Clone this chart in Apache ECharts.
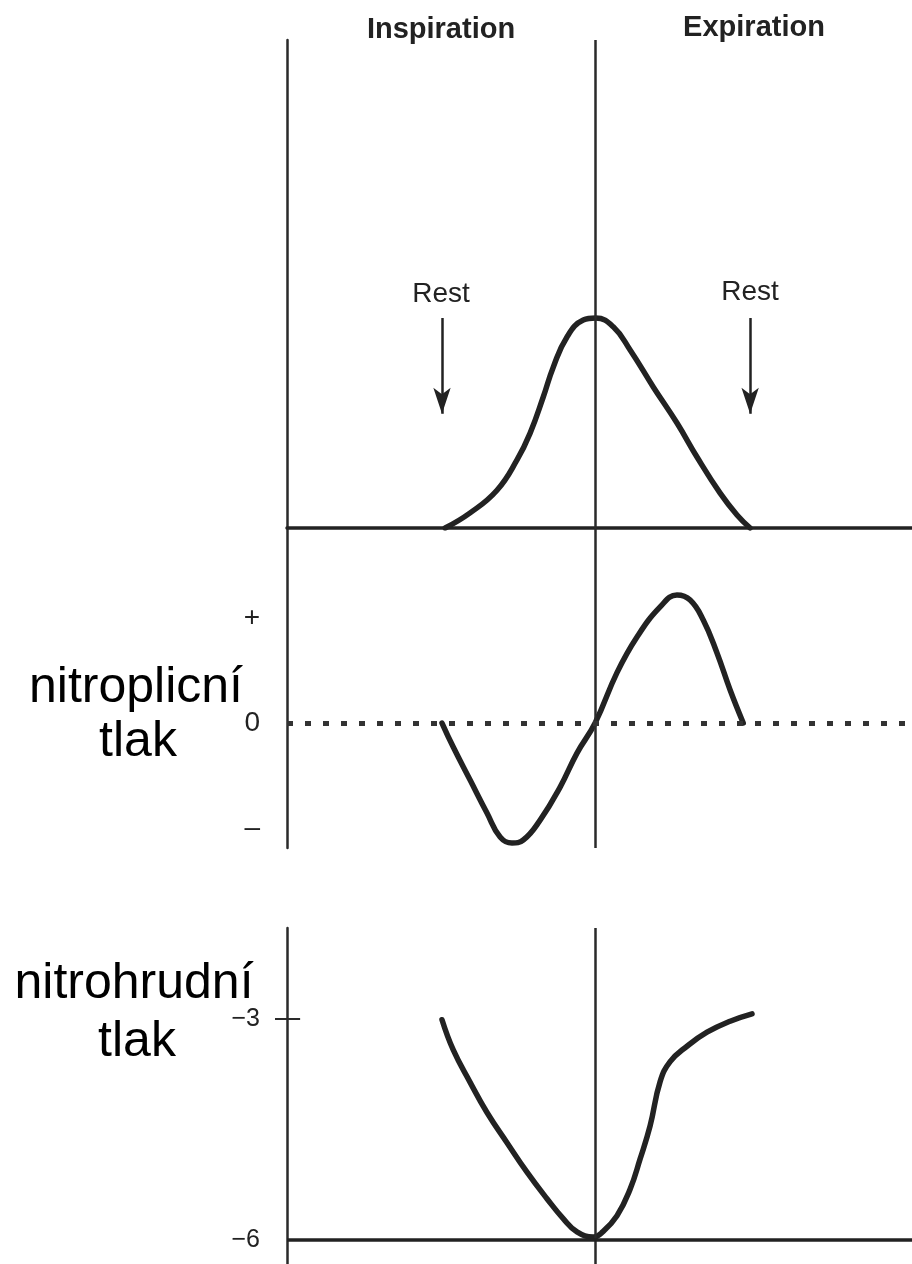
<!DOCTYPE html>
<html>
<head>
<meta charset="utf-8">
<script src="https://cdn.jsdelivr.net/npm/echarts@6/dist/echarts.min.js"></script>
<style>
html,body{margin:0;padding:0;background:#fff;}
#chart{width:912px;height:1264px;}
</style>
</head>
<body>
<div id="chart"></div>
<script>
// ---- data (x in relative time units 0..100, centre of cycle at 49.3) ----
const centreX = 49.3;
// lung volume (top panel)
const volumeX = [25.3, 29.3, 33.6, 36.8, 38.9, 41.0, 42.6, 44.8, 47.4, 49.4, 52.2, 54.9, 58.6, 62.4, 65.6, 69.3, 72.0, 74.1];
const volumeY = [0, 0.036, 0.090, 0.162, 0.226, 0.312, 0.383, 0.455, 0.495, 0.5, 0.479, 0.424, 0.336, 0.25, 0.169, 0.083, 0.031, 0];
// intrapulmonary pressure (middle panel)
const alvX = [24.8, 26.6, 29.3, 32.0, 34.1, 36.0, 37.8, 40.5, 43.7, 46.4, 49.3, 52.8, 56.0, 59.7, 62.4, 64.5, 66.6, 68.8, 70.9, 73.0];
const alvY = [0, -0.229, -0.543, -0.857, -1.086, -1.143, -1.114, -0.924, -0.610, -0.286, 0, 0.480, 0.819, 1.105, 1.219, 1.171, 0.981, 0.667, 0.314, 0];
// intrapleural pressure (bottom panel)
const pleX = [24.8, 26.6, 29.3, 32.0, 35.2, 38.4, 41.6, 44.2, 46.4, 49.0, 50.5, 52.8, 54.9, 56.5, 58.1, 59.7, 61.3, 64.0, 67.2, 70.9, 74.4];
const pleY = [-3.01, -3.42, -3.86, -4.27, -4.68, -5.08, -5.44, -5.71, -5.89, -5.96, -5.89, -5.67, -5.31, -4.90, -4.45, -3.85, -3.58, -3.37, -3.18, -3.03, -2.93];
// rest arrows (x positions and volume levels of arrow start / tip)
const restX = [24.8, 74.1];
const restArrowTop = 0.5;
const restArrowTip = 0.272;
// tick labels
const midTicks = [1, 0, -1];
const midTickLabels = {'1': '+', '0': '0', '-1': '\u2013'};
const botTicks = [-3, -6];
const botTickLabels = {'-3': '\u22123', '-6': '\u22126'};
const phaseLabels = ['Inspiration', 'Expiration'];
const restLabel = 'Rest';
const panelLabels = [['nitroplicní', 'tlak'], ['nitrohrudní', 'tlak']];

function zip(xs, ys) { return xs.map((x, i) => [x, ys[i]]); }

const ink = '#222';
const axisCol = '#2a2a2a';
const sans = '"Liberation Sans", Arial, sans-serif';

const chart = echarts.init(document.getElementById('chart'), null, {renderer: 'canvas'});

const baseX = (gi, showLine) => ({
  type: 'value', gridIndex: gi, min: 0, max: 100,
  axisLine: {show: showLine, onZero: false, lineStyle: {color: ink, width: 3.5}},
  axisTick: {show: false}, axisLabel: {show: false}, splitLine: {show: false}
});

const curve = (gi, data) => ({
  type: 'line', xAxisIndex: gi, yAxisIndex: gi, data: data,
  smooth: 0.45, showSymbol: false, silent: true,
  lineStyle: {color: ink, width: 5.5, cap: 'round', join: 'round'}
});

const solid = (w, c) => ({color: c || axisCol, width: w, type: 'solid'});

const s0 = curve(0, zip(volumeX, volumeY));
s0.markLine = {
  silent: true, animation: false, label: {show: false},
  data: [
    [{xAxis: centreX, yAxis: 0, symbol: 'none', lineStyle: solid(2.5)},
     {xAxis: centreX, yAxis: 1.162, symbol: 'none'}],
    [{coord: [restX[0], restArrowTop], symbol: 'none', lineStyle: solid(2.5, ink)},
     {coord: [restX[0], restArrowTip], symbol: 'arrow', symbolSize: [13, 26]}],
    [{coord: [restX[1], restArrowTop], symbol: 'none', lineStyle: solid(2.5, ink)},
     {coord: [restX[1], restArrowTip], symbol: 'arrow', symbolSize: [13, 26]}]
  ]
};
const s1 = curve(1, zip(alvX, alvY));
s1.markLine = {
  silent: true, symbol: 'none', animation: false, label: {show: false},
  data: [
    {xAxis: centreX, lineStyle: solid(2.5)},
    {yAxis: 0, lineStyle: {color: '#333', width: 5, type: [6, 12]}}
  ]
};
const s2 = curve(2, zip(pleX, pleY));
s2.markLine = {
  silent: true, symbol: 'none', animation: false, label: {show: false},
  data: [
    {xAxis: centreX, lineStyle: solid(2.5)},
    {yAxis: -6, lineStyle: solid(3.5, ink)},
    [{coord: [0, -3], lineStyle: solid(2)}, {coord: [2.1, -3]}]
  ]
};

const option = {
  animation: false,
  backgroundColor: '#fff',
  grid: [
    {left: 287, right: 0, top: 40, height: 488},
    {left: 287, right: 0, top: 528, height: 320},
    {left: 287, right: 0, top: 928, height: 336}
  ],
  xAxis: [baseX(0, true), baseX(1, false), baseX(2, false)],
  yAxis: [
    {type: 'value', gridIndex: 0, min: 0, max: 1.162,
      axisLine: {show: true, lineStyle: {color: axisCol, width: 2.5}},
      axisTick: {show: false}, axisLabel: {show: false}, splitLine: {show: false}},
    {type: 'value', gridIndex: 1, min: -1.19, max: 1.857,
      axisLine: {show: true, lineStyle: {color: axisCol, width: 2.5}},
      axisTick: {show: false}, splitLine: {show: false},
      axisLabel: {show: true, customValues: midTicks, margin: 27, color: ink,
        fontFamily: sans, fontSize: 28,
        formatter: v => midTickLabels[String(v)]}},
    {type: 'value', gridIndex: 2, min: -6.326, max: -1.765,
      axisLine: {show: true, lineStyle: {color: axisCol, width: 2.5}},
      axisTick: {show: true, customValues: [-3], length: 12, lineStyle: {color: axisCol, width: 2}},
      splitLine: {show: false},
      axisLabel: {show: true, customValues: botTicks, margin: 27, color: ink,
        fontFamily: sans, fontSize: 25,
        formatter: v => botTickLabels[String(v)]}}
  ],
  series: [s0, s1, s2],
  graphic: [
    {type: 'text', x: 441, y: 30, style: {text: phaseLabels[0], fill: ink, font: 'bold 29px ' + sans, textAlign: 'center', textVerticalAlign: 'middle'}},
    {type: 'text', x: 754, y: 28, style: {text: phaseLabels[1], fill: ink, font: 'bold 29px ' + sans, textAlign: 'center', textVerticalAlign: 'middle'}},
    {type: 'text', x: 441, y: 294, style: {text: restLabel, fill: ink, font: '28px ' + sans, textAlign: 'center', textVerticalAlign: 'middle'}},
    {type: 'text', x: 750, y: 292, style: {text: restLabel, fill: ink, font: '28px ' + sans, textAlign: 'center', textVerticalAlign: 'middle'}},
    {type: 'text', x: 136, y: 688, style: {text: panelLabels[0][0], fill: '#000', font: '50px ' + sans, textAlign: 'center', textVerticalAlign: 'middle'}},
    {type: 'text', x: 138, y: 742, style: {text: panelLabels[0][1], fill: '#000', font: '50px ' + sans, textAlign: 'center', textVerticalAlign: 'middle'}},
    {type: 'text', x: 134, y: 984, style: {text: panelLabels[1][0], fill: '#000', font: '50px ' + sans, textAlign: 'center', textVerticalAlign: 'middle'}},
    {type: 'text', x: 137, y: 1042, style: {text: panelLabels[1][1], fill: '#000', font: '50px ' + sans, textAlign: 'center', textVerticalAlign: 'middle'}}
  ]
};
chart.setOption(option);
</script>
</body>
</html>
